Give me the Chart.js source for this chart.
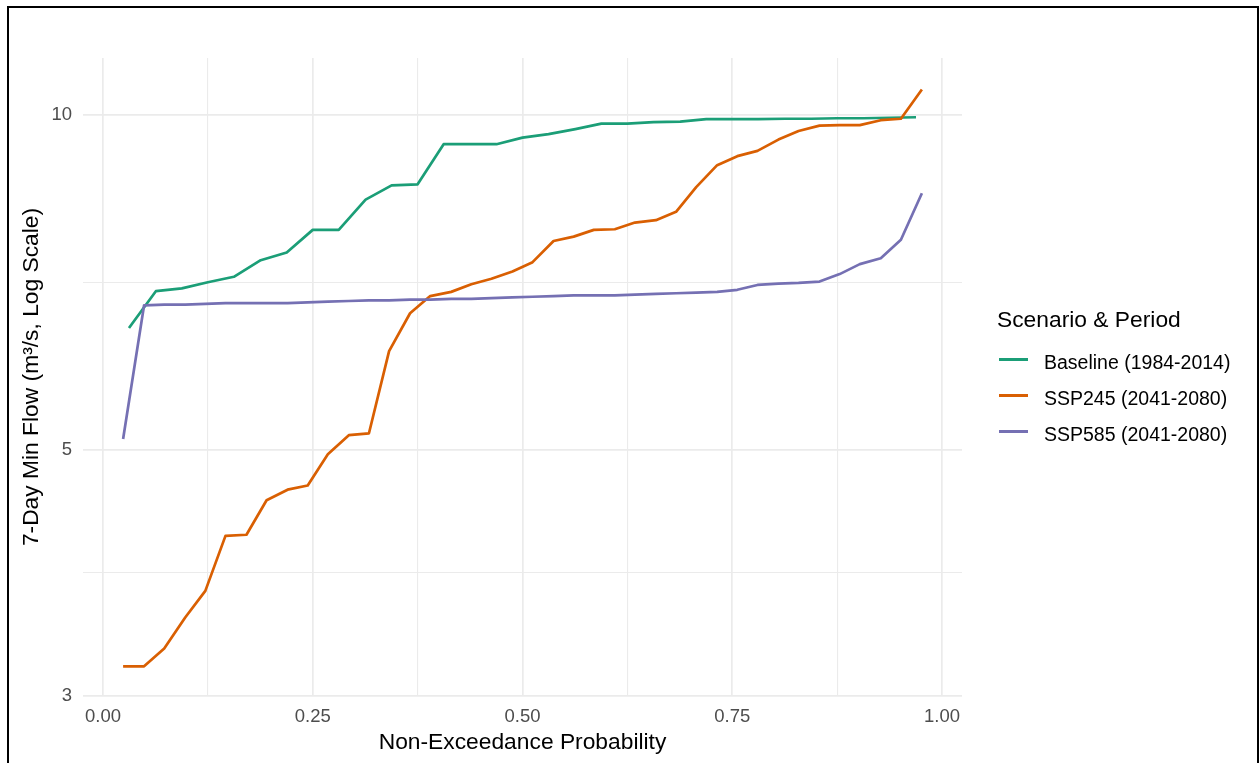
<!DOCTYPE html>
<html>
<head>
<meta charset="utf-8">
<script src="https://cdn.jsdelivr.net/npm/chart.js@4.4.1/dist/chart.umd.min.js"></script>
<style>
  html, body { margin: 0; padding: 0; background: #ffffff; }
  body { width: 1259px; height: 763px; position: relative; overflow: hidden; font-family: "Liberation Sans", Arial, sans-serif; }
  #wrap { position: absolute; left: 0; top: 0; width: 1259px; height: 763px; }
  #frame { position: absolute; left: 7px; top: 6px; width: 1252px; height: 820px; box-sizing: border-box;
           border: 2.5px solid #000; border-bottom: none; pointer-events: none; }
  .lg-title { position: absolute; left: 997px; font-size: 22.8px; line-height: 30px; color: #000; white-space: nowrap; }
  .lg-swatch { position: absolute; left: 999px; width: 29px; height: 2.7px; }
  .lg-label { position: absolute; left: 1044px; font-size: 19.5px; line-height: 36px; color: #000; white-space: nowrap; }
</style>
</head>
<body>
<div id="wrap"><canvas id="c" width="1259" height="763"></canvas></div>
<div id="legend"></div>
<div id="frame"></div>
<script>
// ---- Data ----
const seriesNames = ["Baseline (1984-2014)", "SSP245 (2041-2080)", "SSP585 (2041-2080)"];
const seriesColors = ["#1B9E77", "#D95F02", "#7570B3"];
const legendTitle = "Scenario & Period";

// Non-exceedance probabilities (plotting positions)
const baselineProb = [0.031, 0.063, 0.094, 0.125, 0.156, 0.188, 0.219, 0.250, 0.281, 0.313,
                      0.344, 0.375, 0.406, 0.438, 0.469, 0.500, 0.531, 0.563, 0.594, 0.625,
                      0.656, 0.688, 0.719, 0.750, 0.781, 0.813, 0.844, 0.875, 0.906, 0.938, 0.969];
const futureProb = [0.024, 0.049, 0.073, 0.098, 0.122, 0.146, 0.171, 0.195, 0.220, 0.244,
                    0.268, 0.293, 0.317, 0.341, 0.366, 0.390, 0.415, 0.439, 0.463, 0.488,
                    0.512, 0.537, 0.561, 0.585, 0.610, 0.634, 0.659, 0.683, 0.707, 0.732,
                    0.756, 0.780, 0.805, 0.829, 0.854, 0.878, 0.902, 0.927, 0.951, 0.976];

// 7-day minimum flows (m3/s)
const baselineFlow = [6.43, 6.94, 6.98, 7.07, 7.15, 7.40, 7.52, 7.88, 7.88, 8.39,
                      8.64, 8.66, 9.41, 9.41, 9.41, 9.54, 9.61, 9.71, 9.82, 9.82,
                      9.85, 9.86, 9.91, 9.91, 9.91, 9.92, 9.92, 9.93, 9.93, 9.94, 9.95];
const ssp245Flow = [3.19, 3.19, 3.31, 3.53, 3.73, 4.18, 4.19, 4.50, 4.60, 4.64,
                    4.95, 5.15, 5.17, 6.13, 6.63, 6.87, 6.93, 7.04, 7.12, 7.23,
                    7.37, 7.70, 7.77, 7.88, 7.89, 8.00, 8.04, 8.18, 8.61, 9.01,
                    9.18, 9.28, 9.50, 9.67, 9.78, 9.79, 9.79, 9.89, 9.92, 10.54];
const ssp585Flow = [5.11, 6.74, 6.75, 6.75, 6.76, 6.77, 6.77, 6.77, 6.77, 6.78,
                    6.79, 6.80, 6.81, 6.81, 6.82, 6.82, 6.83, 6.83, 6.84, 6.85,
                    6.86, 6.87, 6.88, 6.88, 6.88, 6.89, 6.90, 6.91, 6.92, 6.93,
                    6.96, 7.03, 7.05, 7.06, 7.08, 7.19, 7.34, 7.43, 7.72, 8.50];

// Axes
const xMajorTicks = [0, 0.25, 0.5, 0.75, 1.0];
const xMajorLabels = ["0.00", "0.25", "0.50", "0.75", "1.00"];
const xMinorTicks = [0.125, 0.375, 0.625, 0.875];
const yMajorTicks = [3, 5, 10];
const yMajorLabels = ["3", "5", "10"];
const yMinorTicks = [3.873, 7.071];
const xTitle = "Non-Exceedance Probability";
const yTitle = "7-Day Min Flow (m\u00B3/s, Log Scale)";

// ---- Build chart ----
const FONT = "'Liberation Sans', Arial, sans-serif";
function pts(xs, ys) { return xs.map((x, i) => ({ x: x, y: ys[i] })); }
const seriesX = [baselineProb, futureProb, futureProb];
const seriesY = [baselineFlow, ssp245Flow, ssp585Flow];

const datasets = seriesNames.map((name, k) => ({
  label: name,
  data: pts(seriesX[k], seriesY[k]),
  borderColor: seriesColors[k],
  backgroundColor: seriesColors[k],
  borderWidth: 2.7,
  pointRadius: 0,
  pointHoverRadius: 0,
  tension: 0,
  borderJoinStyle: 'round',
  borderCapStyle: 'butt',
  fill: false,
  order: 2 - k
}));

const xAll = xMajorTicks.concat(xMinorTicks).sort((a, b) => a - b);
const yAll = yMajorTicks.concat(yMinorTicks).sort((a, b) => a - b);
const isMajorX = v => xMajorTicks.some(t => Math.abs(t - v) < 1e-9);
const isMajorY = v => yMajorTicks.some(t => Math.abs(t - v) < 1e-9);

const chart = new Chart(document.getElementById('c'), {
  type: 'line',
  data: { datasets: datasets },
  options: {
    responsive: false,
    animation: false,
    devicePixelRatio: 1,
    layout: { padding: { left: 0, right: 297, top: 58, bottom: 0 } },
    plugins: { legend: { display: false }, tooltip: { enabled: false } },
    scales: {
      x: {
        type: 'linear',
        min: -0.0238,
        max: 1.0238,
        afterBuildTicks: s => { s.ticks = xAll.map(v => ({ value: v })); },
        afterFit: s => { s.height = 67; },
        ticks: {
          autoSkip: false, maxRotation: 0, padding: 10,
          color: '#4d4d4d', font: { family: FONT, size: 18.5 },
          callback: (v) => { const i = xMajorTicks.findIndex(t => Math.abs(t - v) < 1e-9); return i >= 0 ? xMajorLabels[i] : ''; }
        },
        grid: {
          color: '#ebebeb', drawTicks: false,
          lineWidth: c => (c.tick && isMajorX(c.tick.value)) ? 1.7 : 1.1
        },
        border: { display: false },
        title: { display: true, text: xTitle, color: '#000', font: { family: FONT, size: 22.8 }, padding: { top: 0, bottom: 6.5 } }
      },
      y: {
        type: 'logarithmic',
        min: 3,
        max: 11.25,
        afterBuildTicks: s => { s.ticks = yAll.map(v => ({ value: v })); },
        afterFit: s => { s.width = 83; },
        ticks: {
          autoSkip: false, padding: 11,
          color: '#4d4d4d', font: { family: FONT, size: 18.5 },
          callback: (v) => { const i = yMajorTicks.findIndex(t => Math.abs(t - v) < 1e-9); return i >= 0 ? yMajorLabels[i] : ''; }
        },
        grid: {
          color: '#ebebeb', drawTicks: false,
          lineWidth: c => (c.tick && isMajorY(c.tick.value)) ? 1.7 : 1.1
        },
        border: { display: false },
        title: { display: true, text: yTitle, color: '#000', font: { family: FONT, size: 22.8 }, padding: { top: 18.5, bottom: 0 } }
      }
    }
  }
});

// ---- Legend (built from the chart's datasets) ----
const lg = document.getElementById('legend');
const t = document.createElement('div');
t.className = 'lg-title'; t.textContent = legendTitle; t.style.top = '304.3px';
lg.appendChild(t);
chart.data.datasets.forEach((ds, k) => {
  const cy = 359.3 + k * 36.2;
  const sw = document.createElement('div');
  sw.className = 'lg-swatch'; sw.style.background = ds.borderColor; sw.style.top = (cy - 1.35) + 'px';
  lg.appendChild(sw);
  const lb = document.createElement('div');
  lb.className = 'lg-label'; lb.textContent = ds.label; lb.style.top = (cy + 2.2 - 17.8) + 'px';
  lg.appendChild(lb);
});
</script>
</body>
</html>
